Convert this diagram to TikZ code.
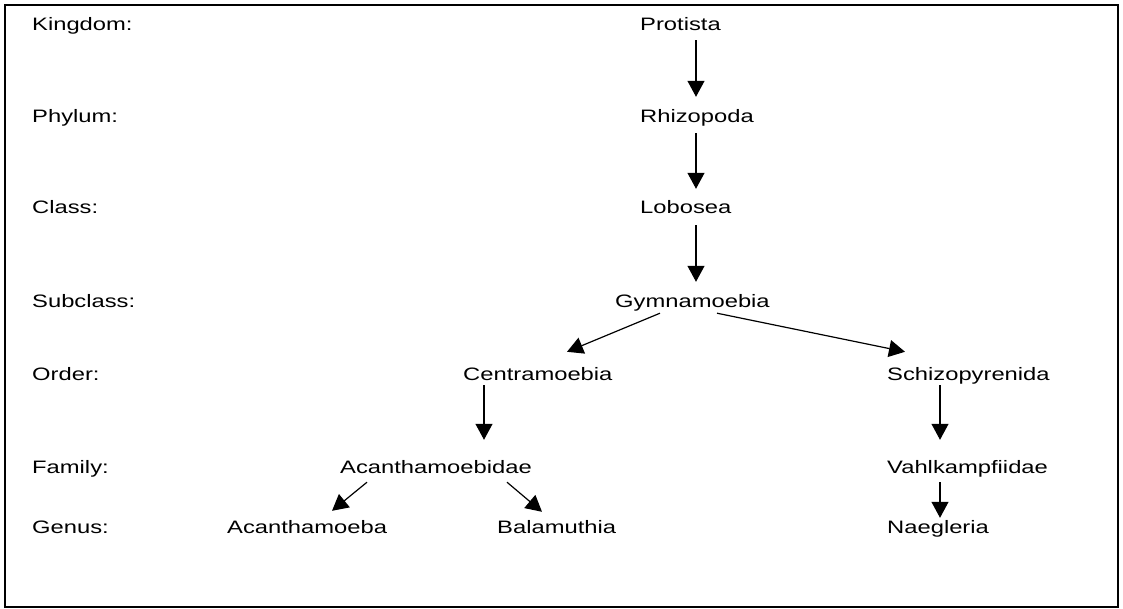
\documentclass[tikz,border=0pt]{standalone}
\usepackage{fontspec}
\setmainfont{Liberation Sans}[FakeStretch=1.32]
\usetikzlibrary{arrows.meta}

\begin{document}
\begin{tikzpicture}[x=1pt,y=-1pt,
  taxon/.style={anchor=base west,inner sep=0pt,text height=13pt,text depth=4pt,font=\fontsize{18}{20}\selectfont},
  arr/.style={-{Triangle[width=17pt,length=16pt]},line width=1.2pt}]
\useasboundingbox (0,0) rectangle (1123,609);
\draw[line width=2.5pt] (5,5) rectangle (1118,607); % frame
% ranks on the left
\foreach \r/\t/\y in {k/Kingdom/31,p/Phylum/123,c/Class/214,s/Subclass/307,o/Order/380,f/Family/473,g/Genus/533}
\node[taxon] (rank\r) at (32,\y) {\t:};
% the tree
\node[taxon] (prot) at (640,31) {Protista};
\node[taxon] (rhiz) at (640,123) {Rhizopoda};
\node[taxon] (lobo) at (640,214) {Lobosea};
\node[taxon] (gymn) at (615,307) {Gymnamoebia};
\node[taxon] (cent) at (463,380) {Centramoebia};
\node[taxon] (schi) at (887,380) {Schizopyrenida};
\node[taxon] (acfam) at (340,473) {Acanthamoebidae};
\node[taxon] (vahl) at (887,473) {Vahlkampfiidae};
\node[taxon] (acgen) at (227,533) {Acanthamoeba};
\node[taxon] (bala) at (497,533) {Balamuthia};
\node[taxon] (naeg) at (887,533) {Naegleria};
% arrows, shifted off the west corners
\draw[arr] ([xshift=56pt,yshift=-5pt]prot.south west) -- ([xshift=56pt,yshift=13pt]rhiz.north west);
\draw[arr] ([xshift=56pt,yshift=-6pt]rhiz.south west) -- ([xshift=56pt,yshift=12pt]lobo.north west);
\draw[arr] ([xshift=56pt,yshift=-7pt]lobo.south west) -- ([xshift=81pt,yshift=12pt]gymn.north west);
\draw[arr] ([xshift=45pt,yshift=-2pt]gymn.south west) -- ([xshift=104pt,yshift=15pt]cent.north west);
\draw[arr] ([xshift=102pt,yshift=-2pt]gymn.south west) -- ([xshift=18pt,yshift=15pt]schi.north west);
\draw[arr] ([xshift=21pt,yshift=-1pt]cent.south west) -- ([xshift=144pt,yshift=20pt]acfam.north west);
\draw[arr] ([xshift=53pt,yshift=-1pt]schi.south west) -- ([xshift=53pt,yshift=20pt]vahl.north west);
\draw[arr] ([xshift=27pt,yshift=-5pt]acfam.south west) -- ([xshift=105pt,yshift=9pt]acgen.north west);
\draw[arr] ([xshift=167pt,yshift=-5pt]acfam.south west) -- ([xshift=45pt,yshift=8pt]bala.north west);
\draw[arr] ([xshift=53pt,yshift=-5pt]vahl.south west) -- ([xshift=53pt,yshift=2pt]naeg.north west);
\end{tikzpicture}
\end{document}
